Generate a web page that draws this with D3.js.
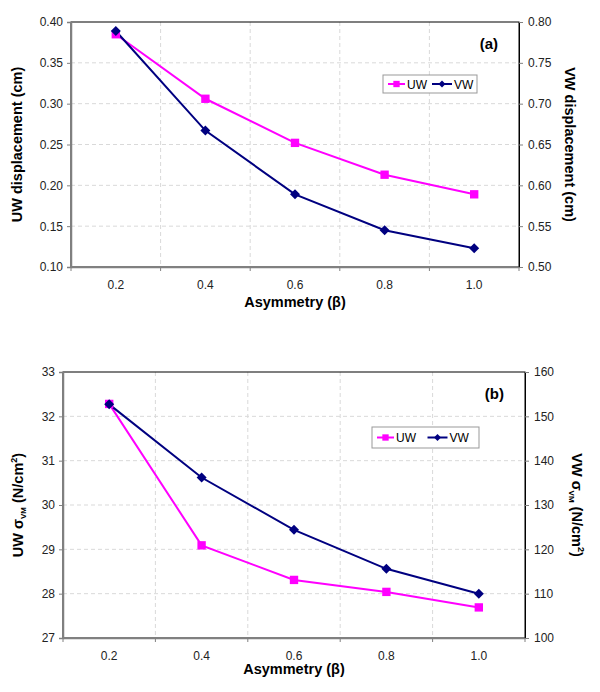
<!DOCTYPE html>
<html><head><meta charset="utf-8">
<script src="https://cdn.jsdelivr.net/npm/d3@7"></script>
<style>body{margin:0;background:#fff}svg{display:block}</style>
</head><body><svg id="c" width="600" height="692"></svg>
<script>
const categories = ["0.2","0.4","0.6","0.8","1.0"];
// Chart (a)
const uwDisp = [0.385, 0.306, 0.252, 0.213, 0.189];
const vwDisp = [0.789, 0.667, 0.589, 0.545, 0.523];
const dispLeftTicks = [0.10,0.15,0.20,0.25,0.30,0.35,0.40];
const dispRightTicks = [0.50,0.55,0.60,0.65,0.70,0.75,0.80];
// Chart (b)
const uwStress = [32.28, 29.09, 28.31, 28.04, 27.69];
const vwStress = [152.7, 136.2, 124.4, 115.6, 110.0];
const stressLeftTicks = [27,28,29,30,31,32,33];
const stressRightTicks = [100,110,120,130,140,150,160];

const svg = d3.select("#c");
const FONT = "Liberation Sans, Arial, sans-serif";

function draw(o){
  const g = svg.append("g");
  const x = d3.scaleBand().domain(categories).range([o.left,o.right]);
  const yL = d3.scaleLinear().domain(o.lDom).range([o.bottom,o.top]);
  const yR = d3.scaleLinear().domain(o.rDom).range([o.bottom,o.top]);
  g.selectAll(".hg").data(o.lTicks.slice(1,-1)).enter().append("line")
    .attr("x1",o.left).attr("x2",o.right).attr("y1",d=>yL(d)).attr("y2",d=>yL(d))
    .attr("stroke","#d9d9d9").attr("stroke-dasharray","4,3").attr("stroke-width",1);
  const bounds = categories.slice(1).map(c=>x(c));
  g.selectAll(".vg").data(bounds).enter().append("line")
    .attr("x1",d=>d).attr("x2",d=>d).attr("y1",o.top).attr("y2",o.bottom)
    .attr("stroke","#d9d9d9").attr("stroke-dasharray","4,3").attr("stroke-width",1);
  g.append("rect").attr("x",o.left).attr("y",o.top).attr("width",o.right-o.left).attr("height",o.bottom-o.top)
    .attr("fill","none").attr("stroke","#000").attr("stroke-width",1);
  const la = g.append("g").attr("transform",`translate(${o.left},0)`)
    .call(d3.axisLeft(yL).tickValues(o.lTicks).tickFormat(o.lFmt).tickSize(4).tickPadding(4));
  la.select(".domain").attr("stroke","#808080").attr("stroke-width",1.5);
  la.selectAll(".tick line").attr("stroke","#808080");
  la.selectAll("text").attr("font-family",FONT).attr("font-size",12).attr("fill","#222");
  const ra = g.append("g").attr("transform",`translate(${o.right},0)`)
    .call(d3.axisRight(yR).tickValues(o.rTicks).tickFormat(o.rFmt).tickSize(4).tickPadding(5));
  ra.select(".domain").attr("stroke","#000");
  ra.selectAll(".tick line").attr("stroke","#808080");
  ra.selectAll("text").attr("font-family",FONT).attr("font-size",12).attr("fill","#222");
  const ba = g.append("g").attr("transform",`translate(0,${o.bottom})`)
    .call(d3.axisBottom(x).tickSize(0).tickPadding(13));
  ba.select(".domain").attr("stroke","#808080").attr("stroke-width",1.5);
  ba.selectAll("text").attr("font-family",FONT).attr("font-size",12).attr("fill","#222");
  g.selectAll(".bt").data([o.left].concat(bounds,[o.right])).enter().append("line")
    .attr("x1",d=>d).attr("x2",d=>d).attr("y1",o.bottom).attr("y2",o.bottom+4).attr("stroke","#808080");
  const cx = c=>x(c)+x.bandwidth()/2;
  const lineL = d3.line().x((d,i)=>cx(categories[i])).y(d=>yL(d));
  const lineR = d3.line().x((d,i)=>cx(categories[i])).y(d=>yR(d));
  g.append("path").datum(o.uw).attr("d",lineL).attr("fill","none").attr("stroke","#FF00FF").attr("stroke-width",2);
  g.append("path").datum(o.vw).attr("d",lineR).attr("fill","none").attr("stroke","#000080").attr("stroke-width",2);
  const sq = d3.symbol().type(d3.symbolSquare).size(70);
  const dm = d3.symbol().type(d3.symbolSquare).size(50);
  g.selectAll(".us").data(o.uw).enter().append("path").attr("d",sq)
    .attr("transform",(d,i)=>`translate(${cx(categories[i])},${yL(d)})`).attr("fill","#FF00FF");
  g.selectAll(".vs").data(o.vw).enter().append("path").attr("d",dm)
    .attr("transform",(d,i)=>`translate(${cx(categories[i])},${yR(d)}) rotate(45)`).attr("fill","#000080");
  g.append("text").attr("x",o.right-21).attr("y",o.top+27).attr("text-anchor","end")
    .attr("font-family",FONT).attr("font-weight","bold").attr("font-size",15).text(o.tag);
  const L = o.leg;
  const lg = g.append("g");
  lg.append("rect").attr("x",L.x).attr("y",L.y).attr("width",L.w).attr("height",L.h)
    .attr("fill","#fff").attr("stroke","#999");
  const my = L.y+L.h/2;
  lg.append("line").attr("x1",L.x+5).attr("x2",L.x+22).attr("y1",my).attr("y2",my).attr("stroke","#FF00FF").attr("stroke-width",2);
  lg.append("path").attr("d",d3.symbol().type(d3.symbolSquare).size(40)).attr("transform",`translate(${L.x+13.5},${my})`).attr("fill","#FF00FF");
  lg.append("text").attr("x",L.x+24).attr("y",my+4.5).attr("font-family",FONT).attr("font-size",12).text("UW");
  const x2 = L.x+L.w/2+2;
  lg.append("line").attr("x1",x2).attr("x2",x2+20).attr("y1",my).attr("y2",my).attr("stroke","#000080").attr("stroke-width",2);
  lg.append("path").attr("d",d3.symbol().type(d3.symbolSquare).size(24)).attr("transform",`translate(${x2+10},${my}) rotate(45)`).attr("fill","#000080");
  lg.append("text").attr("x",x2+22).attr("y",my+4.5).attr("font-family",FONT).attr("font-size",12).text("VW");
  g.append("text").attr("x",(o.left+o.right)/2).attr("y",o.xTitleY).attr("text-anchor","middle")
    .attr("font-family",FONT).attr("font-weight","bold").attr("font-size",14.5).text("Asymmetry (β)");
  const ym = (o.top+o.bottom)/2;
  const lt = g.append("text").attr("transform",`translate(${o.lTitleX},${ym}) rotate(-90)`).attr("text-anchor","middle")
    .attr("font-family",FONT).attr("font-weight","bold").attr("font-size",14.5);
  o.lTitle(lt);
  const rt = g.append("text").attr("transform",`translate(${o.rTitleX},${ym}) rotate(90)`).attr("text-anchor","middle")
    .attr("font-family",FONT).attr("font-weight","bold").attr("font-size",14.5);
  o.rTitle(rt);
}
function stressTitle(prefix){
  return t=>{
    t.append("tspan").text(prefix+" σ");
    t.append("tspan").attr("font-size",8).attr("dy",3).text("VM");
    t.append("tspan").attr("dy",-3).text(" (N/cm");
    t.append("tspan").attr("font-size",9).attr("dy",-6).text("2");
    t.append("tspan").attr("dy",6).text(")");
  };
}
draw({left:71,right:519,top:22,bottom:267,lDom:[0.10,0.40],rDom:[0.50,0.80],
  lTicks:dispLeftTicks,rTicks:dispRightTicks,lFmt:d3.format(".2f"),rFmt:d3.format(".2f"),
  uw:uwDisp,vw:vwDisp,tag:"(a)",leg:{x:383,y:75,w:94,h:18},xTitleY:307,lTitleX:22,rTitleX:565,
  lTitle:t=>t.text("UW displacement (cm)"),rTitle:t=>t.text("VW displacement (cm)")});
draw({left:63,right:525,top:372,bottom:638,lDom:[27,33],rDom:[100,160],
  lTicks:stressLeftTicks,rTicks:stressRightTicks,lFmt:d3.format("d"),rFmt:d3.format("d"),
  uw:uwStress,vw:vwStress,tag:"(b)",leg:{x:372,y:427,w:107,h:21},xTitleY:674,lTitleX:23,rTitleX:572,
  lTitle:stressTitle("UW"),rTitle:stressTitle("VW")});
</script></body></html>
